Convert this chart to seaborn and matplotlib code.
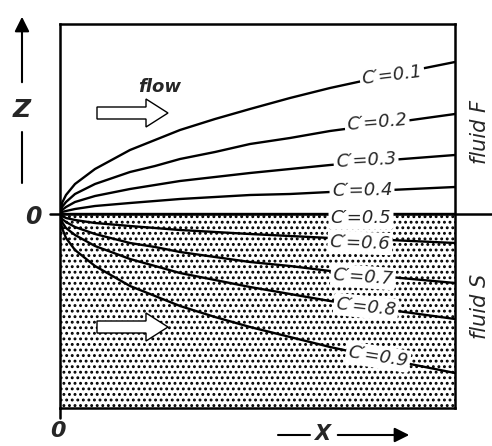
import matplotlib
matplotlib.use("Agg")
import matplotlib.pyplot as plt
import numpy as np
import pandas as pd
import seaborn as sns
from matplotlib.patches import FancyArrow

# positions along the flow (px from the left wall) where the curves were read
x_pos = [0, 2, 6, 15, 35, 70, 95, 120, 155, 190, 230, 270, 330, 395]

# height of each C' iso-line above (+) / below (-) the interface
concentrations = [0.1, 0.2, 0.3, 0.4, 0.5, 0.6, 0.7, 0.8, 0.9]
z_c01 = [0, 11, 19, 30, 45, 64, 74, 84, 95, 105, 116, 126, 139, 152]
z_c02 = [0, 7, 12, 20, 30, 42, 48, 55, 62, 70, 76, 83, 91, 100]
z_c03 = [0, 4, 7, 12, 18, 25, 29, 33, 37, 41, 45, 49, 54, 59]
z_c04 = [0, 2, 3, 5, 8, 11, 13, 15, 17, 19, 20, 22, 24, 27]
z_c05 = [0, 0, 0, 0, 0, 0, 0, 0, 0, 0, 0, 0, 0, 0]
z_c06 = [0, -2, -4, -6, -9, -12, -14, -16, -18, -20, -22, -24, -26, -29]
z_c07 = [0, -5, -8, -13, -20, -29, -33, -38, -43, -48, -52, -57, -63, -69]
z_c08 = [0, -8, -14, -21, -32, -45, -52, -59, -66, -73, -80, -87, -96, -105]
z_c09 = [0, -14, -24, -36, -52, -72, -82, -92, -103, -113, -123, -133, -146, -159]
curves = [z_c01, z_c02, z_c03, z_c04, z_c05, z_c06, z_c07, z_c08, z_c09]

# label positions and tilt for each C' line
label_x = [332, 317, 306, 302, 301, 300, 303, 306, 318]
label_z = [139, 92, 54, 24, -4, -29, -63, -93, -143]
label_rot = [7, 5, 3, 1, 0, -2, -4, -6, -9]

sns.set_style("white")
plt.rcParams["font.family"] = ["DejaVu Sans"]
plt.rcParams["hatch.linewidth"] = 1.3

rows = []
for c, zs in zip(concentrations, curves):
    for x, z in zip(x_pos, zs):
        rows.append({"C": c, "x": x, "z": z})
df = pd.DataFrame(rows)

fig = plt.figure(figsize=(4.92, 4.46), dpi=100)
ax = fig.add_axes([60 / 492, 38 / 446, 395 / 492, 384 / 446])

# dotted fluid S region
ax.fill_between([0, 395], [-194, -194], [0, 0], facecolor="white",
                hatch="...", edgecolor="black", linewidth=0, zorder=0)

sns.lineplot(data=df, x="x", y="z", units="C", estimator=None, sort=False,
             color="black", linewidth=1.7, ax=ax, zorder=2)

for c, lx, lz, rot in zip(concentrations, label_x, label_z, label_rot):
    ax.text(lx, lz, f"C\u2032={c:.1f}", ha="center", va="center", rotation=rot,
            fontsize=13, style="italic", zorder=4,
            bbox=dict(boxstyle="round,pad=0.12", fc="white", ec="none"))

ax.set_xlim(0, 395)
ax.set_ylim(-194, 190)
ax.set_xlabel("")
ax.set_ylabel("")
ax.set_xticks([])
ax.set_yticks([])
for s in ax.spines.values():
    s.set_linewidth(1.8)
    s.set_color("black")

# interface line and wall extension
ax.plot([-10, 432], [0, 0], color="black", lw=1.8, clip_on=False, zorder=3)
ax.plot([0, 0], [-194, -204], color="black", lw=1.8, clip_on=False)

# flow arrows
for yc in [101, -113]:
    ax.add_patch(FancyArrow(37, yc, 71, 0, width=12, head_width=28, head_length=22,
                            length_includes_head=True, fc="white", ec="black",
                            lw=1.0, zorder=3))
ax.text(100, 127, "flow", ha="center", va="center", fontsize=13, style="italic",
        fontweight="bold")

# Z axis indicator
ax.annotate("", xy=(-38, 200), xytext=(-38, 129), annotation_clip=False,
            arrowprops=dict(arrowstyle="-|>", color="black", lw=1.5, mutation_scale=22))
ax.plot([-38, -38], [82, 31], color="black", lw=1.5, clip_on=False)
ax.text(-38, 104, "Z", ha="center", va="center", fontsize=18, style="italic",
        fontweight="bold")
ax.text(-27, -3, "0", ha="center", va="center", fontsize=17, style="italic",
        fontweight="bold")
ax.text(-2, -217, "0", ha="center", va="center", fontsize=16, style="italic",
        fontweight="bold")

# X axis indicator
ax.plot([218, 250], [-221, -221], color="black", lw=1.5, clip_on=False)
ax.text(262, -220, "X", ha="center", va="center", fontsize=15, style="italic",
        fontweight="bold")
ax.annotate("", xy=(352, -221), xytext=(275, -221), annotation_clip=False,
            arrowprops=dict(arrowstyle="-|>", color="black", lw=1.5, mutation_scale=22))

ax.text(420, 82, "fluid F", ha="center", va="center", rotation=90, fontsize=15, style="italic")
ax.text(420, -92, "fluid S", ha="center", va="center", rotation=90, fontsize=15, style="italic")

fig.savefig("out.png", dpi=100)
